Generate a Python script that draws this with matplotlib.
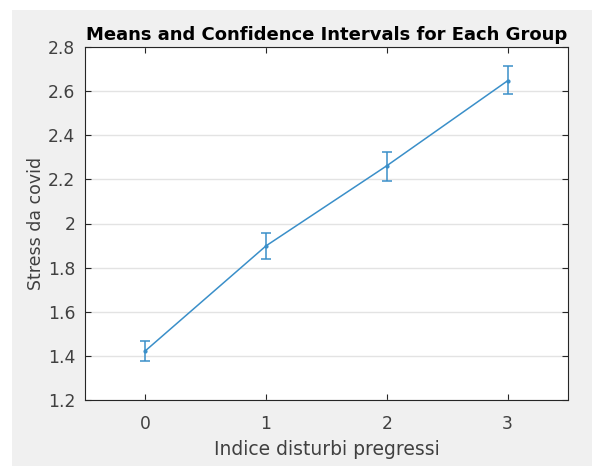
import matplotlib
matplotlib.use("Agg")
import matplotlib.pyplot as plt
from matplotlib.patches import Rectangle

groups = [0, 1, 2, 3]
means = [1.423, 1.899, 2.262, 2.647]
ci_low = [1.375, 1.840, 2.194, 2.586]
ci_high = [1.469, 1.955, 2.324, 2.714]
yticks = [1.2, 1.4, 1.6, 1.8, 2.0, 2.2, 2.4, 2.6, 2.8]
ytick_labels = ["1.2", "1.4", "1.6", "1.8", "2", "2.2", "2.4", "2.6", "2.8"]

plt.rcParams['font.family'] = ['DejaVu Sans']

W, H = 592, 466
fig = plt.figure(figsize=(W / 100, H / 100), dpi=100, facecolor='white')
fig.patches.append(Rectangle((12 / W, 0), 1 - 12 / W, 1 - 10 / H,
                             transform=fig.transFigure, facecolor='#f0f0f0',
                             edgecolor='none', zorder=-10))

ax = fig.add_axes([85 / W, 1 - 400 / H, (568 - 85) / W, (400 - 47) / H])
ax.set_facecolor('white')

color = '#3a8fc9'
yerr = [[m - l for m, l in zip(means, ci_low)], [h - m for m, h in zip(means, ci_high)]]
ax.errorbar(groups, means, yerr=yerr, color=color, lw=1.1, marker='.', ms=4,
            capsize=3.6, capthick=1.1, elinewidth=1.1)

ax.set_xlim(-0.5, 3.5)
ax.set_ylim(1.2, 2.8)
ax.set_xticks(groups)
ax.set_xticklabels([str(g) for g in groups])
ax.set_yticks(yticks)
ax.set_yticklabels(ytick_labels)
ax.yaxis.grid(True, color='#e3e3e3', lw=1)
ax.set_axisbelow(True)

tc = '#404040'
ax.tick_params(direction='in', length=4, width=0.8, colors='#262626',
               labelcolor=tc, labelsize=12.3, top=True, right=True, pad=7)
ax.tick_params(axis='x', pad=11)
for s in ax.spines.values():
    s.set_color('#262626')
    s.set_linewidth(0.8)

ax.set_xlabel('Indice disturbi pregressi', fontsize=13.5, color=tc, labelpad=5)
ax.set_ylabel('Stress da covid', fontsize=12.5, color=tc, labelpad=2)
ax.set_title('Means and Confidence Intervals for Each Group', fontsize=13,
             fontweight='bold', color='black', pad=5)

fig.savefig('out.png', dpi=100, facecolor=fig.get_facecolor())
